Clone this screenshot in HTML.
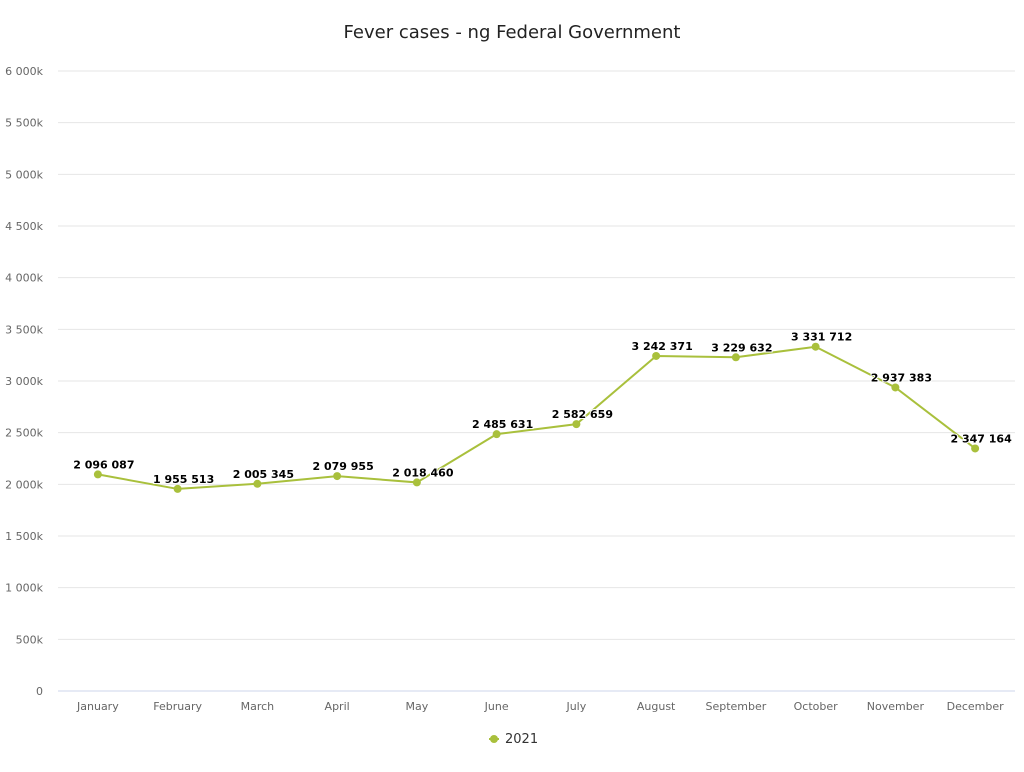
<!DOCTYPE html>
<html><head><meta charset="utf-8"><style>
body{margin:0;background:#fff;font-family:"DejaVu Sans","Liberation Sans",sans-serif}
svg text{font-family:"DejaVu Sans","Liberation Sans",sans-serif}
</style></head><body>
<svg id="chart" width="1024" height="768" xmlns="http://www.w3.org/2000/svg">
<rect width="1024" height="768" fill="#fff"/>
<text x="512" y="38" text-anchor="middle" font-size="18" fill="#222">Fever cases - ng Federal Government</text>
<g id="grid"></g>
<g id="yaxis"></g>
<g id="xaxis"></g>
<g id="series"></g>
<g id="labels"></g>
<g>
<line x1="489" y1="739" x2="499" y2="739" stroke="#a9c03c" stroke-width="2"/>
<circle cx="494" cy="739" r="4" fill="#a9c03c"/>
<text x="505" y="743" font-size="13" fill="#333">2021</text>
</g>
</svg>
<script>
const categories=["January","February","March","April","May","June","July","August","September","October","November","December"];
const values=[2096087,1955513,2005345,2079955,2018460,2485631,2582659,3242371,3229632,3331712,2937383,2347164];
const yTicks=[0,500000,1000000,1500000,2000000,2500000,3000000,3500000,4000000,4500000,5000000,5500000,6000000];
const yTickLabels=["0","500k","1 000k","1 500k","2 000k","2 500k","3 000k","3 500k","4 000k","4 500k","5 000k","5 500k","6 000k"];
const NS="http://www.w3.org/2000/svg";
const L=58,R=1015,T=71,B=691,yMax=6000000;
const y=v=>B-(v/yMax)*(B-T);
const bw=(R-L)/categories.length;
const x=i=>L+bw*(i+0.5);
function mk(tag,attrs,parent){const e=document.createElementNS(NS,tag);for(const k in attrs)e.setAttribute(k,attrs[k]);parent.appendChild(e);return e;}
const grid=document.getElementById('grid'),ya=document.getElementById('yaxis'),xa=document.getElementById('xaxis'),se=document.getElementById('series'),lb=document.getElementById('labels');
yTicks.forEach((t,i)=>{
 const g=mk('line',{x1:L,x2:R,y1:y(t),y2:y(t),stroke:t===0?'#ccd6eb':'#e6e6e6','stroke-width':1},grid);
 
 
 const tx=mk('text',{x:43,y:y(t)+4,'text-anchor':'end','font-size':11,fill:'#666'},ya);
 tx.textContent=yTickLabels[i];
 
 
});
categories.forEach((c,i)=>{
 const tx=mk('text',{x:x(i),y:710,'text-anchor':'middle','font-size':11,fill:'#666'},xa);
 tx.textContent=c;
 
 
});
const pl=mk('polyline',{points:values.map((v,i)=>x(i)+','+y(v)).join(' '),fill:'none',stroke:'#a9c03c','stroke-width':2},se);


const fmt=v=>String(v).replace(/\B(?=(\d{3})+(?!\d))/g,' ');
values.forEach((v,i)=>{
 const c=mk('circle',{cx:x(i),cy:y(v),r:4,fill:'#a9c03c'},se);
 
 
 const t=mk('text',{x:x(i)+6,y:y(v)-6,'text-anchor':'middle','font-size':11,'font-weight':'bold',fill:'#000',stroke:'#fff','stroke-width':2,'paint-order':'stroke'},lb);
 t.textContent=fmt(v);
 
 
});
</script>
</body></html>
